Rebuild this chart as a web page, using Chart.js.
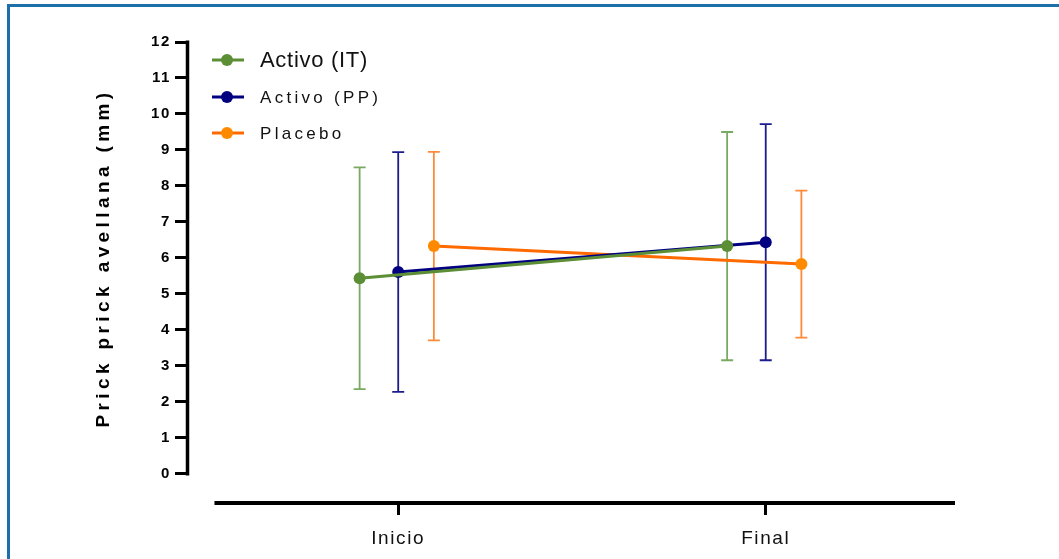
<!DOCTYPE html>
<html>
<head>
<meta charset="utf-8">
<title>Prick prick avellana</title>
<script src="https://cdn.jsdelivr.net/npm/chart.js@4.4.1/dist/chart.umd.min.js"></script>
<style>
  html, body { margin: 0; padding: 0; background: #fff; overflow: hidden; }
  #wrap { position: relative; width: 1059px; height: 559px; }
  #frame { position: absolute; left: 7px; top: 4px; right: -10px; bottom: -10px;
           border-left: 3px solid #1d6fa9; border-top: 3px solid #1d6fa9; pointer-events: none; }
  canvas { position: absolute; left: 0; top: 0; }
</style>
</head>
<body>
<div id="wrap">
  <canvas id="c" width="1059" height="559"></canvas>
  <div id="frame"></div>
</div>
<script>
// ---- data ----
const categories = ['Inicio', 'Final'];
const seriesNames = ['Activo (IT)', 'Activo (PP)', 'Placebo'];
const activoIT = [5.44, 6.33];
const activoIT_sd = [3.08, 3.17];
const activoPP = [5.61, 6.44];
const activoPP_sd = [3.33, 3.28];
const placebo = [6.33, 5.83];
const placebo_sd = [2.62, 2.04];
const yTicks = [0, 1, 2, 3, 4, 5, 6, 7, 8, 9, 10, 11, 12];
const yTitle = 'Prick prick avellana (mm)';

// ---- styling ----
const FONT = '"Liberation Sans", Arial, Helvetica, sans-serif';
const styles = [
  { line: '#5b8e35', point: '#5b8e35', bar: '#7aa962', shift: -0.105 },
  { line: '#000080', point: '#000080', bar: '#1c1c8e', shift: 0 },
  { line: '#ff6a00', point: '#ff8a00', bar: '#ff8a3a', shift: 0.097 }
];
const means = [activoIT, activoPP, placebo];
const sds = [activoIT_sd, activoPP_sd, placebo_sd];

const datasets = seriesNames.map((name, s) => ({
  label: name,
  data: means[s].map((v, i) => ({ x: i + styles[s].shift, y: v })),
  sd: sds[s],
  borderColor: styles[s].line,
  backgroundColor: styles[s].point,
  pointBackgroundColor: styles[s].point,
  pointBorderWidth: 0,
  pointRadius: 6,
  borderWidth: 3,
  barColor: styles[s].bar,
  tension: 0,
  showLine: true
}));

// error bars (mean ± SD), drawn beneath lines and points
const errorBars = {
  id: 'errorBars',
  beforeDatasetsDraw(chart) {
    const ctx = chart.ctx, y = chart.scales.y;
    chart.data.datasets.forEach((ds, di) => {
      const meta = chart.getDatasetMeta(di);
      ctx.save();
      ctx.strokeStyle = ds.barColor;
      ctx.lineWidth = 1.8;
      meta.data.forEach((pt, i) => {
        const m = ds.data[i].y, sd = ds.sd[i];
        const top = y.getPixelForValue(m + sd), bot = y.getPixelForValue(m - sd);
        const x = pt.x, cap = 6;
        ctx.beginPath();
        ctx.moveTo(x, top); ctx.lineTo(x, bot);
        ctx.moveTo(x - cap, top); ctx.lineTo(x + cap, top);
        ctx.moveTo(x - cap, bot); ctx.lineTo(x + cap, bot);
        ctx.stroke();
      });
      ctx.restore();
    });
  }
};

// axis lines: y runs from 0 to 12, x axis sits detached below the plot
const axisLines = {
  id: 'axisLines',
  beforeDraw(chart) { chart.ctx.letterSpacing = '1.6px'; },
  beforeDatasetsDraw(chart) {
    const ctx = chart.ctx, x = chart.scales.x, y = chart.scales.y, a = chart.chartArea;
    ctx.save();
    ctx.strokeStyle = '#000';
    ctx.lineCap = 'butt';
    ctx.lineWidth = 3.5;
    ctx.beginPath();
    ctx.moveTo(a.left - 0.5, y.getPixelForValue(yTicks[yTicks.length - 1]) - 1.5);
    ctx.lineTo(a.left - 0.5, y.getPixelForValue(yTicks[0]) + 1.5);
    ctx.stroke();
    ctx.lineWidth = 4;
    ctx.beginPath();
    ctx.moveTo(x.getPixelForValue(-0.5), a.bottom);
    ctx.lineTo(a.right, a.bottom);
    ctx.stroke();
    ctx.restore();
  }
};

// legend and rotated axis title
const legendLayout = [
  { y: 60, size: 22, weight: 'normal', spacing: '0.7px' },
  { y: 97, size: 17, weight: 'normal', spacing: '3.3px' },
  { y: 133, size: 17, weight: 'normal', spacing: '3.3px' }
];
const labelsPlugin = {
  id: 'labelsPlugin',
  afterDraw(chart) {
    const ctx = chart.ctx;
    ctx.save();
    chart.data.datasets.forEach((ds, i) => {
      const L = legendLayout[i];
      ctx.strokeStyle = ds.borderColor;
      ctx.lineWidth = 3;
      ctx.beginPath();
      ctx.moveTo(212, L.y); ctx.lineTo(244, L.y);
      ctx.stroke();
      ctx.fillStyle = ds.pointBackgroundColor;
      ctx.beginPath();
      ctx.arc(227, L.y, 6, 0, Math.PI * 2);
      ctx.fill();
      ctx.fillStyle = '#111';
      ctx.letterSpacing = L.spacing;
      ctx.font = `${L.weight} ${L.size}px ${FONT}`;
      ctx.textAlign = 'left';
      ctx.textBaseline = 'middle';
      ctx.fillText(ds.label, 260, L.y + 1);
    });
    ctx.translate(104, 258);
    ctx.rotate(-Math.PI / 2);
    ctx.letterSpacing = '4.4px';
    ctx.font = `bold 19px ${FONT}`;
    ctx.fillStyle = '#000';
    ctx.textAlign = 'center';
    ctx.textBaseline = 'middle';
    ctx.fillText(yTitle, 0, 0);
    ctx.restore();
    ctx.letterSpacing = '0px';
  }
};

new Chart(document.getElementById('c'), {
  type: 'scatter',
  data: { datasets },
  options: {
    responsive: false,
    devicePixelRatio: 1,
    animation: false,
    layout: { padding: { top: 42, right: 104, left: 0, bottom: 0 } },
    plugins: { legend: { display: false }, tooltip: { enabled: false } },
    scales: {
      x: {
        type: 'linear',
        min: -0.572,
        max: 1.515,
        afterBuildTicks: s => { s.ticks = categories.map((c, i) => ({ value: i })); },
        afterFit: s => { s.height = 56; },
        ticks: {
          autoSkip: false,
          maxRotation: 0,
          padding: 12,
          color: '#111',
          font: { family: FONT, size: 19 },
          callback: (v, i) => categories[i]
        },
        grid: { drawOnChartArea: false, drawTicks: true, tickLength: 12, tickWidth: 3, tickColor: '#000' },
        border: { display: false }
      },
      y: {
        min: -0.806,
        max: 12,
        afterBuildTicks: s => { s.ticks = yTicks.map(v => ({ value: v })); },
        afterFit: s => { s.width = 188; },
        ticks: {
          padding: 4,
          color: '#000',
          font: { family: FONT, size: 15, weight: 'bold' }
        },
        grid: { drawOnChartArea: false, drawTicks: true, tickLength: 13, tickWidth: 3, tickColor: '#000' },
        border: { display: false }
      }
    }
  },
  plugins: [errorBars, axisLines, labelsPlugin]
});
</script>
</body>
</html>
